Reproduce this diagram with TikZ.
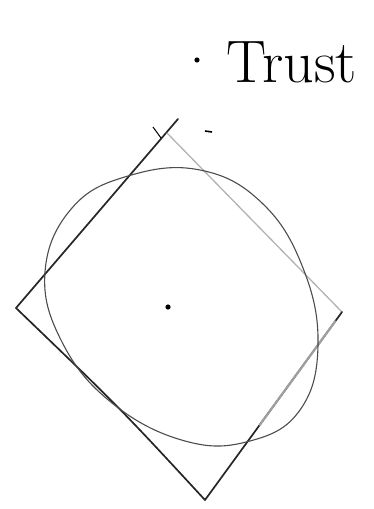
\documentclass[tikz,border=0pt]{standalone}
\usepackage{tkz-euclide}
\begin{document}
\begin{tikzpicture}[x=1pt,y=-1pt,
	ink/.style={line width=1.7pt,line cap=round,black!85},
	pale/.style={line width=1.3pt,line cap=round,gray!75},
	loop/.style={line width=1.1pt,black!70}]
	\useasboundingbox (0,0) rectangle (373,509);
	\tkzDefPoints{16/308/L,167/133/T,342/312/R,205/500/B,168/307/O,178/119/E}
	\coordinate (K) at (121,409);
	% the square, drawn by hand
	\draw[ink] (L) -- (E);
	\draw[pale,gray!60] (T) -- (R);
	\draw[ink] (R) -- (B);
	\draw[pale,line width=2.2pt] ($(R)!0.05!(B)$) -- ($(R)!0.6!(B)$);
	\draw[ink] (L) .. controls (K) .. (B);
%	\tkzDrawPoints[color=black,size=2pt](L,T,R,B)
	% the loop round the centre
	\draw[loop] plot[smooth cycle,tension=0.7] coordinates {(128,176) (200,170) (262,203)
		(303,268) (318,345) (300,410) (250,441) (185,441) (112,403) (62,342) (45,272) (72,208)};
	\fill (O) circle (2.6pt);
	% marks near the top corner
	\draw[line width=1pt] (153,127) -- (161,138);
	\draw[line width=1.6pt] (205,131) -- (212,132);
	% label
	\node[inner sep=0pt] (trust) at (292,62) {\fontsize{60}{64}\selectfont Trust};
	\fill (197,60) circle (2.6pt);
\end{tikzpicture}
\end{document}
